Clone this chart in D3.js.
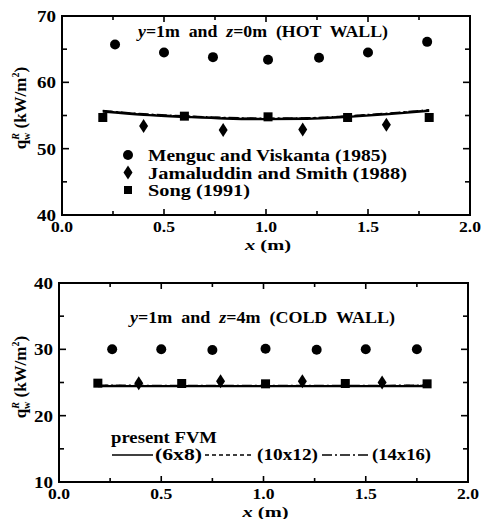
<!DOCTYPE html>
<html>
<head>
<meta charset="utf-8">
<script src="https://cdn.jsdelivr.net/npm/d3@7"></script>
<style>
  body { margin: 0; background: #fff; }
  text { font-family: "Liberation Serif", "Times New Roman", serif; font-weight: bold; fill: #000; }
</style>
</head>
<body>
<div id="chart"></div>
<script>
"use strict"

// top panel: hot wall
let hotMenguc = [[0.26, 65.7], [0.50, 64.5], [0.74, 63.8], [1.01, 63.4], [1.26, 63.7], [1.50, 64.5], [1.79, 66.1]];
let hotJamal = [[0.40, 53.4], [0.79, 52.8], [1.18, 52.9], [1.59, 53.6]];
let hotSong = [[0.20, 54.7], [0.60, 54.9], [1.01, 54.8], [1.40, 54.7], [1.80, 54.7]];
let hotFvm6 = [[0.20, 55.6], [0.40, 55.1], [0.60, 54.8], [0.80, 54.55], [1.00, 54.45], [1.20, 54.5], [1.40, 54.8], [1.60, 55.2], [1.80, 55.7]];
let hotFvm10 = [[0.20, 55.7], [0.40, 55.2], [0.60, 54.9], [0.80, 54.65], [1.00, 54.55], [1.20, 54.6], [1.40, 54.9], [1.60, 55.3], [1.80, 55.8]];
let hotFvm14 = [[0.20, 55.75], [0.40, 55.25], [0.60, 54.95], [0.80, 54.7], [1.00, 54.6], [1.20, 54.65], [1.40, 54.95], [1.60, 55.35], [1.80, 55.85]];

// bottom panel: cold wall
let coldMenguc = [[0.26, 30.0], [0.50, 30.0], [0.75, 29.9], [1.01, 30.1], [1.26, 29.95], [1.50, 30.0], [1.75, 30.0]];
let coldJamal = [[0.39, 24.9], [0.79, 25.2], [1.19, 25.2], [1.58, 25.0]];
let coldSong = [[0.19, 24.9], [0.60, 24.85], [1.01, 24.8], [1.40, 24.85], [1.80, 24.8]];
let coldFvm6 = [[0.19, 24.45], [0.60, 24.45], [1.00, 24.45], [1.40, 24.45], [1.81, 24.45]];
let coldFvm10 = [[0.19, 24.55], [0.60, 24.5], [1.00, 24.5], [1.40, 24.5], [1.81, 24.55]];
let coldFvm14 = [[0.19, 24.6], [0.60, 24.55], [1.00, 24.55], [1.40, 24.55], [1.81, 24.6]];

let xTicks = [0, 0.5, 1.0, 1.5, 2.0];
let legendNames = ["Menguc and Viskanta (1985)", "Jamaluddin and Smith (1988)", "Song (1991)"];
let gridNames = ["(6x8)", "(10x12)", "(14x16)"];

let svg = d3.select("#chart").append("svg")
            .attr("width", 483)
            .attr("height", 519);

// the original face is a wide bold serif, so stretch text to its measured width
function fit(sel, w)
{
  return sel.attr("textLength", w).attr("lengthAdjust", "spacingAndGlyphs");
}

function drawPanel(p)
{
  let x = d3.scaleLinear().domain([0, 2]).range([p.left, p.right]);
  let y = d3.scaleLinear().domain(p.yDomain).range([p.bottom, p.top]);
  let g = svg.append("g");

  let yMajor = d3.range(p.yDomain[0], p.yDomain[1] + 0.1, 10);
  let yMinor = d3.range(p.yDomain[0] + 5, p.yDomain[1], 10);
  let xMinor = [0.25, 0.75, 1.25, 1.75];

  // inward ticks on all four sides
  function ticks(sel, vals, len)
  {
    vals.forEach(function(v) {
      sel.append("line").attr("x1", p.left).attr("x2", p.left + len).attr("y1", y(v)).attr("y2", y(v));
      sel.append("line").attr("x1", p.right).attr("x2", p.right - len).attr("y1", y(v)).attr("y2", y(v));
    });
  }
  function xticks(sel, vals, len)
  {
    vals.forEach(function(v) {
      sel.append("line").attr("y1", p.bottom).attr("y2", p.bottom - len).attr("x1", x(v)).attr("x2", x(v));
      sel.append("line").attr("y1", p.top).attr("y2", p.top + len).attr("x1", x(v)).attr("x2", x(v));
    });
  }
  let tg = g.append("g").attr("stroke", "#000").attr("stroke-width", 1.6);
  ticks(tg, yMajor.slice(1, -1), 7);
  ticks(tg, yMinor, 5);
  xticks(tg, xTicks.slice(1, -1), 6);
  xticks(tg, xMinor, 4);

  g.append("rect")
   .attr("x", p.left).attr("y", p.top)
   .attr("width", p.right - p.left).attr("height", p.bottom - p.top)
   .attr("fill", "none").attr("stroke", "#000").attr("stroke-width", 2);

  fit(g.selectAll(".ylab").data(yMajor).enter().append("text")
   .attr("x", p.left - 6).attr("y", d => y(d) + 6)
   .attr("text-anchor", "end").attr("font-size", 16)
   .text(d => d), 19);

  fit(g.selectAll(".xlab").data(xTicks).enter().append("text")
   .attr("x", d => x(d)).attr("y", p.bottom + 17)
   .attr("text-anchor", "middle").attr("font-size", 15)
   .text(d => d.toFixed(1)), 22);

  let xl = g.append("text")
   .attr("x", x(1) + 2).attr("y", p.bottom + 35)
   .attr("text-anchor", "middle").attr("font-size", 15);
  xl.append("tspan").attr("font-style", "italic").text("x");
  xl.append("tspan").text(" (m)");
  fit(xl, 46);

  // rotated y label
  let yl = g.append("text")
   .attr("transform", "translate(" + 26 + "," + p.yLabelMid + ") rotate(-90)")
   .attr("text-anchor", "middle").attr("font-size", 17);
  yl.append("tspan").text("q");
  yl.append("tspan").attr("font-size", 10).attr("font-style", "italic").attr("dy", -7).text("R");
  yl.append("tspan").attr("font-size", 10).attr("dx", -7).attr("dy", 11).text("w");
  yl.append("tspan").attr("dy", -4).text(" (kW/m");
  yl.append("tspan").attr("font-size", 10).attr("dy", -7).text("2");
  yl.append("tspan").attr("dy", 7).text(")");

  // title
  let t = g.append("text")
   .attr("x", p.titleX).attr("y", p.titleY)
   .attr("font-size", 16).attr("xml:space", "preserve");
  t.append("tspan").attr("font-style", "italic").text("y");
  t.append("tspan").text("=1m  and  ");
  t.append("tspan").attr("font-style", "italic").text("z");
  t.append("tspan").text(p.titleRest);
  fit(t, p.titleW);

  // FVM lines
  let line = d3.line().x(d => x(d[0])).y(d => y(d[1])).curve(d3.curveMonotoneX);
  [[p.fvm6, null, 2.4], [p.fvm10, "4,3", 1.5], [p.fvm14, "10,3,2,3", 1.5]].forEach(function(s) {
    g.append("path").datum(s[0]).attr("d", line)
     .attr("fill", "none").attr("stroke", "#000")
     .attr("stroke-width", s[2]).attr("stroke-dasharray", s[1]);
  });

  g.selectAll(".circ").data(p.menguc).enter().append("circle")
   .attr("cx", d => x(d[0])).attr("cy", d => y(d[1])).attr("r", 5);
  g.selectAll(".diam").data(p.jamal).enter().append("path")
   .attr("d", d => diamond(x(d[0]), y(d[1])));
  g.selectAll(".sq").data(p.song).enter().append("rect")
   .attr("x", d => x(d[0]) - 4.5).attr("y", d => y(d[1]) - 4.5)
   .attr("width", 9).attr("height", 9);

  return { x: x, y: y, g: g };
}

function diamond(cx, cy)
{
  return "M" + cx + "," + (cy - 7) + "L" + (cx + 4.5) + "," + cy +
         "L" + cx + "," + (cy + 7) + "L" + (cx - 4.5) + "," + cy + "Z";
}

let hotPanel = drawPanel({
  left: 62, right: 470, top: 16, bottom: 215,
  yDomain: [40, 70], yLabelMid: 108,
  titleX: 138, titleY: 37, titleW: 250, titleRest: "=0m  (HOT  WALL)",
  menguc: hotMenguc, jamal: hotJamal, song: hotSong,
  fvm6: hotFvm6, fvm10: hotFvm10, fvm14: hotFvm14
});

let coldPanel = drawPanel({
  left: 59, right: 468, top: 283, bottom: 482,
  yDomain: [10, 40], yLabelMid: 377,
  titleX: 130, titleY: 323, titleW: 265, titleRest: "=4m  (COLD  WALL)",
  menguc: coldMenguc, jamal: coldJamal, song: coldSong,
  fvm6: coldFvm6, fvm10: coldFvm10, fvm14: coldFvm14
});

// legend, top panel
let legendW = [239, 259, 102];
let lg = hotPanel.g.append("g");
legendNames.forEach(function(name, i) {
  let ly = 155 + i * 17.5;
  if (i === 0) lg.append("circle").attr("cx", 128).attr("cy", ly).attr("r", 5);
  if (i === 1) lg.append("path").attr("d", diamond(128, ly));
  if (i === 2) lg.append("rect").attr("x", 124).attr("y", ly - 4).attr("width", 8).attr("height", 8);
  fit(lg.append("text").attr("x", 148).attr("y", ly + 6).attr("font-size", 16).text(name), legendW[i]);
});

// legend, bottom panel
let bg = coldPanel.g.append("g");
fit(bg.append("text").attr("x", 111).attr("y", 443).attr("font-size", 16).text("present FVM"), 106);
let segs = [[112, 153, null, 1.5], [205, 252, "4,3", 1.5], [322, 370, "10,3,2,3", 1.5]];
let labX = [155, 257, 372];
let labW = [47, 61, 59];
gridNames.forEach(function(name, i) {
  bg.append("line").attr("x1", segs[i][0]).attr("x2", segs[i][1])
    .attr("y1", 455).attr("y2", 455)
    .attr("stroke", "#000").attr("stroke-width", segs[i][3])
    .attr("stroke-dasharray", segs[i][2]);
  fit(bg.append("text").attr("x", labX[i]).attr("y", 460).attr("font-size", 16).text(name), labW[i]);
});
</script>
</body>
</html>
